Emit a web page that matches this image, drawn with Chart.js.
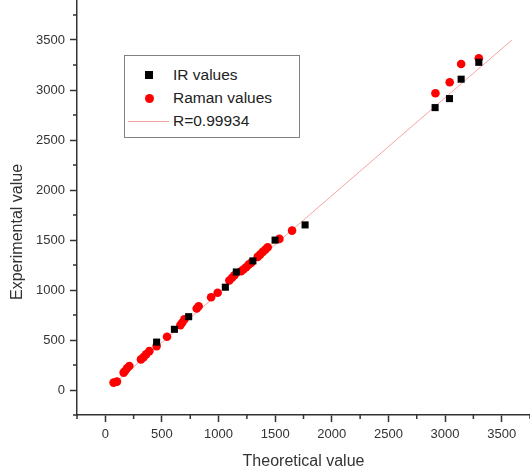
<!DOCTYPE html>
<html>
<head>
<meta charset="utf-8">
<script src="https://cdn.jsdelivr.net/npm/chart.js@4.4.1/dist/chart.umd.min.js"></script>
<style>
    html, body { margin: 0; padding: 0; background: #fff; overflow: hidden; }
    #wrap { position: relative; width: 530px; height: 471px; }
    #legend {
        position: absolute; left: 124px; top: 55px; width: 174px; height: 81px;
        border: 1px solid #808080; background: #fff;
        font-family: "Liberation Sans", Arial, sans-serif; font-size: 15.5px; color: #222;
    }
    #legend .lbl { position: absolute; left: 48px; height: 20px; line-height: 20px; white-space: nowrap; }
    #legend .mk { position: absolute; }
</style>
</head>
<body>
<div id="wrap">
    <canvas id="fitChart"></canvas>
    <div id="legend"></div>
</div>
<script>
// IR bands: theoretical vs experimental wavenumbers
const irTheo = [453, 610, 736, 1060, 1157, 1303, 1499, 1764, 2912, 3039, 3142, 3298];
const irExp = [479, 607, 733, 1028, 1180, 1291, 1499, 1651, 2824, 2914, 3108, 3277];

// Raman bands
const ramanTheo = [73, 103, 162, 174, 192, 212, 315, 338, 360, 389, 453, 545, 663, 678, 698, 807, 824, 934, 992,
    1095, 1119, 1140, 1199, 1219, 1243, 1266, 1287, 1345, 1367, 1390, 1413, 1434, 1537, 1649, 2915, 3041, 3142, 3298];
const ramanExp = [74, 84, 174, 190, 217, 240, 306, 329, 356, 389, 439, 533, 649, 673, 706, 815, 838, 928, 972,
    1095, 1122, 1148, 1188, 1205, 1228, 1254, 1271, 1331, 1354, 1381, 1404, 1427, 1511, 1594, 2968, 3078, 3260, 3317];

// linear fit line ends
const fitTheo = [60, 3590];
const fitExp = [45, 3500];

const seriesNames = ["IR values", "Raman values", "R=0.99934"];
const majorTicks = [0, 500, 1000, 1500, 2000, 2500, 3000, 3500];
const minorTicks = [-250, 250, 750, 1250, 1750, 2250, 2750, 3250, 3750];

const FONT = '"Liberation Sans", Arial, sans-serif';

function pts(xs, ys) {
    return xs.map((x, i) => ({x: x, y: ys[i]}));
}

const minorTickPlugin = {
    id: 'minorTicks',
    afterDraw(chart) {
        const ctx = chart.ctx;
        const xs = chart.scales.x, ys = chart.scales.y;
        ctx.save();
        ctx.strokeStyle = '#333';
        ctx.lineWidth = 1.5;
        ctx.beginPath();
        minorTicks.forEach(v => {
            const px = xs.getPixelForValue(v);
            if (px >= xs.left - 1 && px <= xs.right + 1) {
                ctx.moveTo(px, xs.top);
                ctx.lineTo(px, xs.top + 4);
            }
            const py = ys.getPixelForValue(v);
            if (py >= ys.top && py <= ys.bottom + 1) {
                ctx.moveTo(ys.right, py);
                ctx.lineTo(ys.right - 4, py);
            }
        });
        ctx.stroke();
        // y axis title
        ctx.translate(18, 232);
        ctx.rotate(-Math.PI / 2);
        ctx.fillStyle = '#333';
        ctx.font = '16px ' + FONT;
        ctx.textAlign = 'center';
        ctx.textBaseline = 'middle';
        ctx.fillText('Experimental value', 0, 0);
        ctx.restore();
    }
};

const fitChart = new Chart(document.getElementById("fitChart"), {
    type: "scatter",
    data: {
        datasets: [
            {
                label: seriesNames[0],
                data: pts(irTheo, irExp),
                pointStyle: "rect",
                pointRadius: 5,
                backgroundColor: "#000",
                borderColor: "#000",
                borderWidth: 0,
            },
            {
                label: seriesNames[1],
                data: pts(ramanTheo, ramanExp),
                pointStyle: "circle",
                pointRadius: 4.3,
                backgroundColor: "#ff0000",
                borderColor: "#ff0000",
                borderWidth: 0,
            },
            {
                label: seriesNames[2],
                type: "line",
                data: pts(fitTheo, fitExp),
                showLine: true,
                pointRadius: 0,
                borderColor: "#f6a3a3",
                borderWidth: 1,
                fill: false,
            },
        ],
    },
    options: {
        responsive: true,
        maintainAspectRatio: false,
        animation: false,
        layout: {padding: 0, autoPadding: false},
        plugins: {
            legend: {display: false},
            tooltip: {enabled: false},
        },
        scales: {
            x: {
                type: "linear",
                min: -250,
                max: 3750,
                border: {color: "#333", width: 1.5},
                grid: {drawOnChartArea: false, drawTicks: true, tickLength: 7, tickColor: "#333", tickWidth: 1.5},
                ticks: {color: "#333", font: {size: 13, family: FONT}, padding: 5, autoSkip: false, maxRotation: 0,
                    callback: v => String(v)},
                title: {display: true, text: "Theoretical value", color: "#333", font: {size: 16, family: FONT}, padding: 0},
                afterBuildTicks: s => { s.ticks = majorTicks.map(v => ({value: v})); },
                afterFit: s => { s.height = 56; s.paddingLeft = 0; s.paddingRight = 0; },
            },
            y: {
                type: "linear",
                min: -250,
                max: 3900,
                border: {color: "#333", width: 1.5},
                grid: {drawOnChartArea: false, drawTicks: true, tickLength: 7, tickColor: "#333", tickWidth: 1.5},
                ticks: {color: "#333", font: {size: 13, family: FONT}, padding: 5, autoSkip: false,
                    callback: v => String(v)},
                title: {display: false},
                afterBuildTicks: s => { s.ticks = majorTicks.map(v => ({value: v})); },
                afterFit: s => { s.width = 77; s.paddingTop = 0; s.paddingBottom = 0; },
            },
        },
    },
    plugins: [minorTickPlugin],
});

// legend box, built from the datasets
const legend = document.getElementById("legend");
const rowY = [19, 42, 65];
fitChart.data.datasets.forEach((ds, i) => {
    const mk = document.createElement("div");
    mk.className = "mk";
    if (i === 0) {
        mk.style.cssText = "left:20px;top:" + (rowY[i] - 4) + "px;width:8px;height:8px;background:" + ds.backgroundColor;
    } else if (i === 1) {
        mk.style.cssText = "left:20px;top:" + (rowY[i] - 4.5) + "px;width:9px;height:9px;border-radius:50%;background:" + ds.backgroundColor;
    } else {
        mk.style.cssText = "left:3px;top:" + rowY[i] + "px;width:41px;height:1px;background:" + ds.borderColor;
    }
    legend.appendChild(mk);
    const lbl = document.createElement("div");
    lbl.className = "lbl";
    lbl.style.top = (rowY[i] - 10) + "px";
    lbl.textContent = ds.label;
    legend.appendChild(lbl);
});
</script>
</body>
</html>
